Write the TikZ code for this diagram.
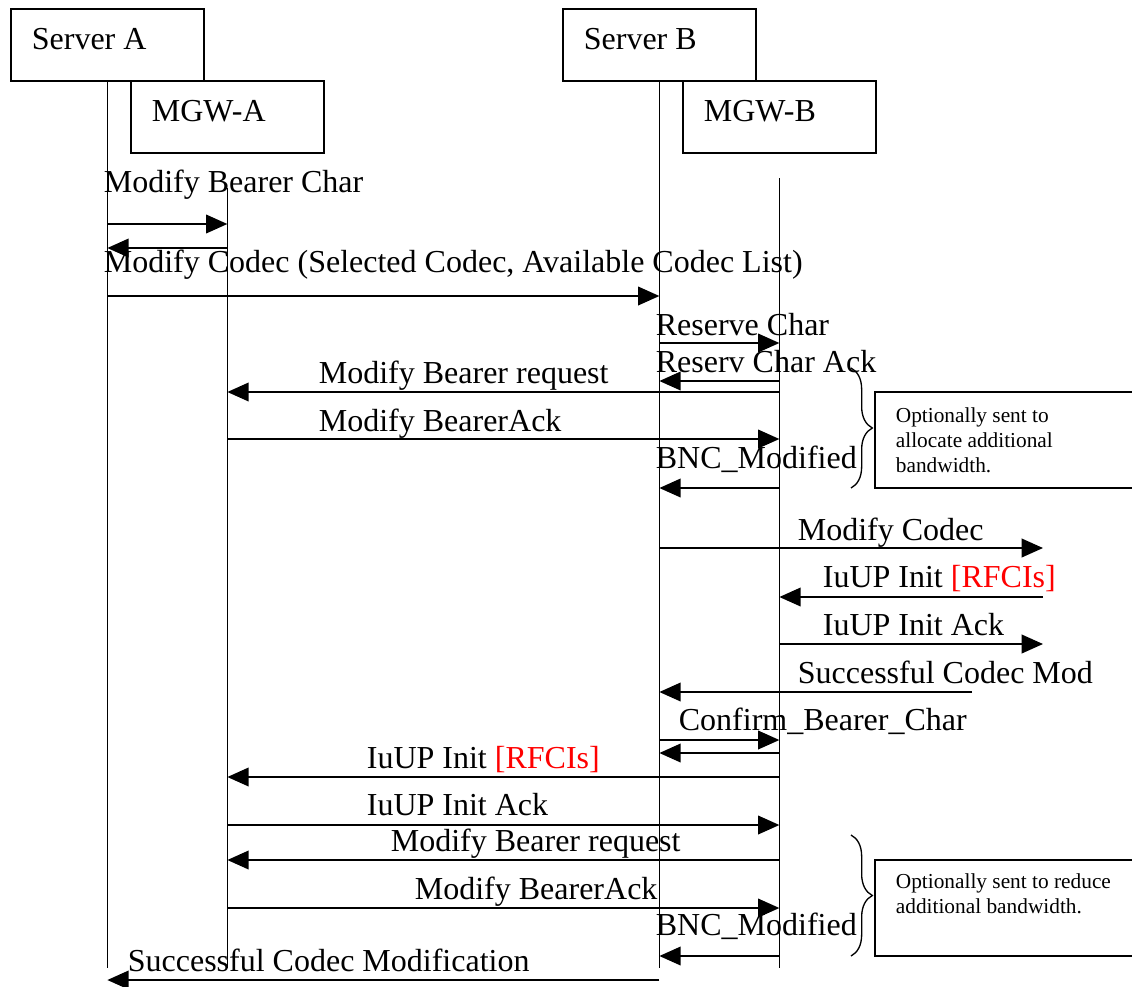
\documentclass[tikz,border=0pt]{standalone}
\usepackage{fontspec}
\setmainfont{Liberation Serif}
\usetikzlibrary{arrows.meta,decorations.pathreplacing}

\begin{document}
\begin{tikzpicture}
[x=0.75pt,y=-0.75pt,line width=1.3pt,
 actor/.style={draw,anchor=north west,font=\fontsize{24}{28}\selectfont,
   text width=113.25pt,inner xsep=15.75pt,inner ysep=14.75pt,
   text height=16pt,text depth=8.5pt,align=flush left},
 msg/.style={-{Triangle[length=16pt,width=14pt]}},
 lbl/.style={anchor=base west,inner sep=0pt,font=\fontsize{24}{28}\selectfont},
 note/.style={anchor=base west,inner sep=0pt,align=flush left,
   font=\fontsize{16}{18.75}\selectfont},
 bracket/.style={decorate,decoration={brace,amplitude=16pt},line width=1pt}]
\useasboundingbox (0,0) rectangle (1132,986);

\node[actor] (srvA) at (10,8) {Server A};
\node[actor] (mgwA) at (130,80) {MGW-A};
\node[actor] (srvB) at (562,8) {Server B};
\node[actor] (mgwB) at (682,80) {MGW-B};

\coordinate (a) at (srvA.south);
\coordinate (ma) at (mgwA.south);
\coordinate (b) at (srvB.south);
\coordinate (mb) at (mgwB.south);
\coordinate (rnc) at (1043,0);
\coordinate (rnc2) at (972,0);

\draw (a) -- (a |- 0,968);
\draw (ma |- 0,188) -- (ma |- 0,968);
\draw (b) -- (b |- 0,968);
\draw (mb |- 0,178) -- (mb |- 0,968);

\node[lbl] (t1) at (103,192) {Modify Bearer Char};
\draw[msg] (a |- 0,224) -- (ma |- 0,224);
\draw[msg] (ma |- 0,248) -- (a |- 0,248);
\node[lbl] (t2) at (103,272) {Modify Codec (Selected Codec, Available Codec List)};
\draw[msg] (a |- 0,296) -- (b |- 0,296);
\node[lbl] (t3) at (655,335) {Reserve Char};
\draw[msg] (b |- 0,343) -- (mb |- 0,343);
\node[lbl] (t4) at (655,372) {Reserv Char Ack};
\draw[msg] (mb |- 0,381) -- (b |- 0,381);
\node[lbl] (t5) at (318,383) {Modify Bearer request};
\draw[msg] (mb |- 0,392) -- (ma |- 0,392);
\node[lbl] (t6) at (318,431) {Modify BearerAck};
\draw[msg] (ma |- 0,439) -- (mb |- 0,439);
\node[lbl] (t7) at (655,468) {BNC\_Modified};
\draw[msg] (mb |- 0,488) -- (b |- 0,488);

\node[lbl] (t8) at (797,540) {Modify Codec};
\draw[msg] (b |- 0,548) -- (rnc |- 0,548);
\node[lbl] (t9) at (822,587) {IuUP Init \textcolor{red}{[RFCIs]}};
\draw[msg] (rnc |- 0,597) -- (mb |- 0,597);
\node[lbl] (t10) at (822,635) {IuUP Init Ack};
\draw[msg] (mb |- 0,644) -- (rnc |- 0,644);
\node[lbl] (t11) at (797,683) {Successful Codec Mod};
\draw[msg] (rnc2 |- 0,692) -- (b |- 0,692);
\node[lbl] (t12) at (678,730) {Confirm\_Bearer\_Char};
\draw[msg] (b |- 0,740) -- (mb |- 0,740);
\draw[msg] (mb |- 0,753) -- (b |- 0,753);

\node[lbl] (t13) at (366,768) {IuUP Init \textcolor{red}{[RFCIs]}};
\draw[msg] (mb |- 0,777) -- (ma |- 0,777);
\node[lbl] (t14) at (366,815) {IuUP Init Ack};
\draw[msg] (ma |- 0,825) -- (mb |- 0,825);
\node[lbl] (t15) at (390,851) {Modify Bearer request};
\draw[msg] (mb |- 0,860) -- (ma |- 0,860);
\node[lbl] (t16) at (414,899) {Modify BearerAck};
\draw[msg] (ma |- 0,908) -- (mb |- 0,908);
\node[lbl] (t17) at (655,935) {BNC\_Modified};
\draw[msg] (mb |- 0,956) -- (b |- 0,956);
\node[lbl] (t18) at (127,971) {Successful Codec Modification};
\draw[msg] (b |- 0,980) -- (a |- 0,980);

\draw[bracket] (851,368) -- (851,488);
\draw (1132,392) -- (875,392) -- (875,488) -- (1132,488);
\node[note] (n1) at (895,472) {Optionally sent to\\allocate additional\\bandwidth.};

\draw[bracket] (851,835) -- (851,956);
\draw (1132,860) -- (875,860) -- (875,956) -- (1132,956);
\node[note] (n2) at (895,913) {Optionally sent to reduce\\additional bandwidth.};
\end{tikzpicture}
\end{document}
